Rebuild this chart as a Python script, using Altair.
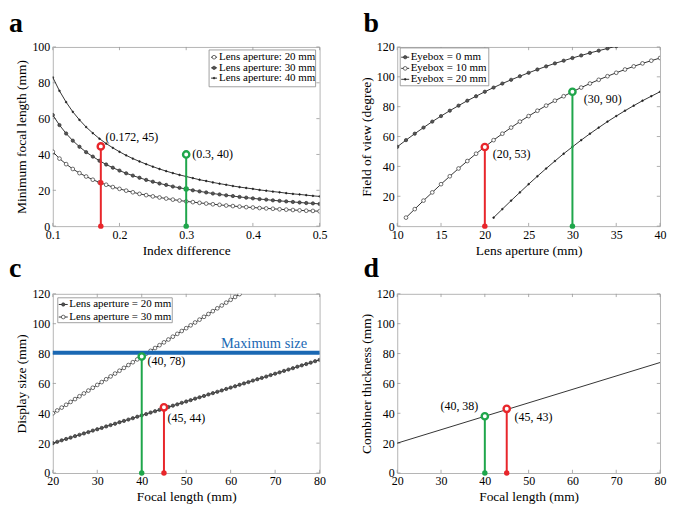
import altair as alt
import pandas as pd

FONT = "Liberation Serif"
RED = "#e8262b"
GREEN = "#1fa64b"
BLUE = "#1a68b3"
GRAY = "#b4b4b4"

# ---------------- Panel a ----------------
idx_diff = [0.10, 0.11, 0.12, 0.13, 0.14, 0.15, 0.16, 0.17, 0.18, 0.19, 0.20,
            0.21, 0.22, 0.23, 0.24, 0.25, 0.26, 0.27, 0.28, 0.29, 0.30,
            0.31, 0.32, 0.33, 0.34, 0.35, 0.36, 0.37, 0.38, 0.39, 0.40,
            0.41, 0.42, 0.43, 0.44, 0.45, 0.46, 0.47, 0.48, 0.49, 0.50]
focal_ap20 = [41.5, 37.7, 34.6, 31.9, 29.6, 27.7, 25.9, 24.4, 23.1, 21.8, 20.8,
              19.8, 18.9, 18.0, 17.3, 16.6, 16.0, 15.4, 14.8, 14.3, 13.8,
              13.4, 13.0, 12.6, 12.2, 11.9, 11.5, 11.2, 10.9, 10.6, 10.4,
              10.1, 9.9, 9.7, 9.4, 9.2, 9.0, 8.8, 8.6, 8.5, 8.3]
focal_ap30 = [62.0, 56.4, 51.7, 47.7, 44.3, 41.3, 38.8, 36.5, 34.4, 32.6, 31.0,
              29.5, 28.2, 27.0, 25.8, 24.8, 23.8, 23.0, 22.1, 21.4, 20.7,
              20.0, 19.4, 18.8, 18.2, 17.7, 17.2, 16.8, 16.3, 15.9, 15.5,
              15.1, 14.8, 14.4, 14.1, 13.8, 13.5, 13.2, 12.9, 12.7, 12.4]
focal_ap40 = [83.0, 75.5, 69.2, 63.8, 59.3, 55.3, 51.9, 48.8, 46.1, 43.7, 41.5,
              39.5, 37.7, 36.1, 34.6, 33.2, 31.9, 30.7, 29.6, 28.6, 27.7,
              26.8, 25.9, 25.2, 24.4, 23.7, 23.1, 22.4, 21.8, 21.3, 20.8,
              20.2, 19.8, 19.3, 18.9, 18.4, 18.0, 17.7, 17.3, 16.9, 16.6]
names_a = ["Lens aperture: 20 mm", "Lens aperture: 30 mm", "Lens aperture: 40 mm"]
ticks_a_x = [0.1, 0.2, 0.3, 0.4, 0.5]
ticks_a_y = [0, 20, 40, 60, 80, 100]
stem_a_x = [0.172, 0.3]
stem_a_top = [44.5, 40.0]
stem_a_mid = [24.2, 20.7]
stem_a_col = [RED, GREEN]
label_a_text = ["(0.172, 45)", "(0.3, 40)"]
label_a_x = [0.179, 0.309]
label_a_y = [50.0, 40.0]

# ---------------- Panel b ----------------
aperture_e0 = list(range(10, 41))
fov_e0 = [53.1, 57.6, 61.9, 66.0, 70.0, 73.7, 77.3, 80.7, 84.0, 87.0, 90.0,
          92.8, 95.5, 98.0, 100.4, 102.7, 104.9, 107.0, 109.0, 110.8, 112.6,
          114.3, 116.0, 117.5, 119.0, 120.5, 121.9, 123.2, 124.4, 125.7, 126.9]
aperture_e10 = list(range(11, 41))
fov_e10 = [5.7, 11.4, 17.1, 22.6, 28.1, 33.4, 38.6, 43.6, 48.5, 53.1,
           57.6, 61.9, 66.0, 70.0, 73.7, 77.3, 80.7, 84.0, 87.0, 90.0,
           92.8, 95.5, 98.0, 100.4, 102.7, 104.9, 107.0, 109.0, 110.8, 112.6]
aperture_e20 = list(range(21, 41))
fov_e20 = [5.7, 11.4, 17.1, 22.6, 28.1, 33.4, 38.6, 43.6, 48.5, 53.1,
           57.6, 61.9, 66.0, 70.0, 73.7, 77.3, 80.7, 84.0, 87.0, 90.0]
names_b = ["Eyebox = 0 mm", "Eyebox = 10 mm", "Eyebox = 20 mm"]
ticks_b_x = [10, 15, 20, 25, 30, 35, 40]
ticks_120 = [0, 20, 40, 60, 80, 100, 120]
stem_b_x = [20, 30]
stem_b_top = [53, 90]
stem_b_col = [RED, GREEN]
label_b_text = ["(20, 53)", "(30, 90)"]
label_b_x = [20.9, 31.3]
label_b_y = [48.0, 85.0]

# ---------------- Panel c ----------------
focal_c20 = list(range(20, 81))
display_ap20 = [20.0, 20.9, 21.9, 22.8, 23.7, 24.7, 25.6, 26.5, 27.4, 28.4, 29.3,
                30.2, 31.2, 32.1, 33.0, 34.0, 34.9, 35.8, 36.7, 37.7, 38.6,
                39.5, 40.5, 41.4, 42.3, 43.3, 44.2, 45.1, 46.0, 47.0, 47.9,
                48.8, 49.8, 50.7, 51.6, 52.6, 53.5, 54.4, 55.3, 56.3, 57.2,
                58.1, 59.1, 60.0, 60.9, 61.9, 62.8, 63.7, 64.6, 65.6, 66.5,
                67.4, 68.4, 69.3, 70.2, 71.2, 72.1, 73.0, 73.9, 74.9, 75.8]
focal_c30 = list(range(20, 63))
display_ap30 = [40.0, 41.9, 43.8, 45.7, 47.6, 49.5, 51.4, 53.3, 55.2, 57.1, 59.0,
                60.9, 62.8, 64.7, 66.6, 68.5, 70.4, 72.3, 74.2, 76.1, 78.0,
                79.9, 81.8, 83.7, 85.6, 87.5, 89.4, 91.3, 93.2, 95.1, 97.0,
                98.9, 100.8, 102.7, 104.6, 106.5, 108.4, 110.3, 112.2, 114.1, 116.0,
                117.9, 119.8]
names_c = ["Lens aperture = 20 mm", "Lens aperture = 30 mm"]
ticks_focal = [20, 30, 40, 50, 60, 70, 80]
max_size = 80.5
max_label_x = 67.5
max_label_y = 84.0
stem_c_x = [40, 45]
stem_c_top = [78, 44]
stem_c_col = [GREEN, RED]
label_c_text = ["(40, 78)", "(45, 44)"]
label_c_x = [41.3, 45.8]
label_c_y = [75.0, 37.0]

# ---------------- Panel d ----------------
focal_d = [20, 80]
thickness_d = [20, 74]
stem_d_x = [40, 45]
stem_d_top = [38, 43]
stem_d_col = [GREEN, RED]
label_d_text = ["(40, 38)", "(45, 43)"]
label_d_x = [38.5, 46.8]
label_d_y = [44.7, 37.3]
label_d_align = ["right", "left"]

W_LEFT, W_RIGHT, H = 268, 264, 180
TICK_FRAC = 0.018

# marker styles: (fill, size)
OPEN = ("white", 14)
FILL = ("#555", 11)
DOT = ("#111", 3)


def enc(domain, values, title, fmt=None):
    ax = dict(values=values, title=title, labelOverlap=False, labelFlush=False)
    if fmt:
        ax["format"] = fmt
    return alt.Scale(domain=domain, nice=False, zero=False), alt.Axis(**ax)


def inner_ticks(xticks, yticks, xdom, ydom, xe, ye, w):
    """MATLAB style inward ticks on all four sides."""
    dy = (ydom[1] - ydom[0]) * TICK_FRAC
    dx = (xdom[1] - xdom[0]) * TICK_FRAC * H / w
    rows = []
    for v in xticks:
        rows.append({"x": v, "x2": v, "y": ydom[0], "y2": ydom[0] + dy})
        rows.append({"x": v, "x2": v, "y": ydom[1] - dy, "y2": ydom[1]})
    for v in yticks:
        rows.append({"x": xdom[0], "x2": xdom[0] + dx, "y": v, "y2": v})
        rows.append({"x": xdom[1] - dx, "x2": xdom[1], "y": v, "y2": v})
    d = pd.DataFrame(rows)
    return alt.Chart(d).mark_rule(color="#999", strokeWidth=0.8).encode(
        x=xe, x2="x2:Q", y=ye, y2="y2:Q")


def series_layers(xs_list, ys_list, names, styles, xe, ye):
    rows = []
    for xs, ys, n, st in zip(xs_list, ys_list, names, styles):
        for x, y in zip(xs, ys):
            rows.append({"x": x, "y": y, "series": n, "f": st[0], "s": st[1]})
    df = pd.DataFrame(rows)
    base = alt.Chart(df)
    line = base.mark_line(color="black", strokeWidth=0.8, clip=True).encode(
        x=xe, y=ye, detail="series:N")
    pts = base.mark_point(stroke="#333", strokeWidth=0.7, opacity=1, clip=True).encode(
        x=xe, y=ye, fill=alt.Fill("f:N", scale=None), size=alt.Size("s:Q", scale=None))
    return [line, pts]


def stem_layers(xs, tops, cols, xe, ye, mids=None):
    d = pd.DataFrame({"x": xs, "y": [0] * len(xs), "y2": tops, "c": cols})
    dt = pd.DataFrame({"x": xs, "y": tops, "c": cols})
    rule = alt.Chart(d).mark_rule(strokeWidth=2).encode(
        x=xe, y=ye, y2="y2:Q", color=alt.Color("c:N", scale=None))
    bot = alt.Chart(d).mark_point(filled=True, size=30, opacity=1).encode(
        x=xe, y=ye, color=alt.Color("c:N", scale=None))
    top = alt.Chart(dt).mark_point(filled=False, fill="white", fillOpacity=1, size=40,
                                   strokeWidth=2.4, opacity=1).encode(
        x=xe, y=ye, stroke=alt.Stroke("c:N", scale=None))
    out = [rule, bot]
    if mids is not None:
        dm = pd.DataFrame({"x": xs, "y": mids, "c": cols})
        out.append(alt.Chart(dm).mark_point(filled=True, size=30, opacity=1).encode(
            x=xe, y=ye, color=alt.Color("c:N", scale=None)))
    out.append(top)
    return out


def labels(texts, xs, ys, xe, ye, aligns=None):
    if aligns is None:
        aligns = ["left"] * len(texts)
    layers = []
    for t, x, y, a in zip(texts, xs, ys, aligns):
        d = pd.DataFrame({"x": [x], "y": [y], "t": [t]})
        layers.append(alt.Chart(d).mark_text(align=a, baseline="middle", fontSize=12,
                                             font=FONT, color="black").encode(
            x=xe, y=ye, text="t:N"))
    return layers


def letter(ch, dx, dy):
    d = pd.DataFrame({"t": [ch]})
    return alt.Chart(d).mark_text(align="left", baseline="alphabetic", fontSize=28,
                                  fontWeight="bold", font=FONT, color="black").encode(
        x=alt.value(dx), y=alt.value(dy), text="t:N")


def legend_box(names, styles, box, rows_y, sym_x, text_x, fsize=11):
    """MATLAB-like boxed legend drawn in pixel space (decoration only)."""
    x0, x1, y0, y1 = box
    one = pd.DataFrame({"k": [0]})
    layers = [alt.Chart(one).mark_rect(fill="white", stroke="#8a8a8a", strokeWidth=0.8).encode(
        x=alt.value(x0), x2=alt.value(x1), y=alt.value(y0), y2=alt.value(y1))]
    for n, st, ry in zip(names, styles, rows_y):
        layers.append(alt.Chart(one).mark_rule(color="black", strokeWidth=0.8).encode(
            x=alt.value(sym_x[0]), x2=alt.value(sym_x[1]), y=alt.value(ry)))
        layers.append(alt.Chart(one).mark_point(fill=st[0], stroke="#333", strokeWidth=0.7,
                                                size=st[1], opacity=1).encode(
            x=alt.value((sym_x[0] + sym_x[1]) / 2), y=alt.value(ry)))
        d = pd.DataFrame({"t": [n]})
        layers.append(alt.Chart(d).mark_text(align="left", baseline="middle", fontSize=fsize,
                                             font=FONT, color="black").encode(
            x=alt.value(text_x), y=alt.value(ry), text="t:N"))
    return layers


# Panel a
dom_ax, dom_ay = [0.1, 0.5], [0, 100]
sx, axx = enc(dom_ax, ticks_a_x, "Index difference", ".1f")
sy, axy = enc(dom_ay, ticks_a_y, "Minimum focal length (mm)")
xa = alt.X("x:Q", scale=sx, axis=axx)
ya = alt.Y("y:Q", scale=sy, axis=axy)
styles_a = [OPEN, FILL, DOT]
panel_a = alt.layer(
    inner_ticks(ticks_a_x, ticks_a_y, dom_ax, dom_ay, xa, ya, W_LEFT),
    *series_layers([idx_diff] * 3, [focal_ap20, focal_ap30, focal_ap40], names_a, styles_a, xa, ya),
    *stem_layers(stem_a_x, stem_a_top, stem_a_col, xa, ya, mids=stem_a_mid),
    *labels(label_a_text, label_a_x, label_a_y, xa, ya),
    *legend_box(names_a, styles_a, (157, 264, 3, 40), [10.3, 21.0, 31.3], (159, 165), 167),
    letter("a", -44, -15),
).properties(width=W_LEFT, height=H)

# Panel b
dom_bx, dom_by = [10, 40], [0, 120]
sx, axx = enc(dom_bx, ticks_b_x, "Lens aperture (mm)")
sy, axy = enc(dom_by, ticks_120, "Field of view (degree)")
xb = alt.X("x:Q", scale=sx, axis=axx)
yb = alt.Y("y:Q", scale=sy, axis=axy)
styles_b = [FILL, OPEN, DOT]
panel_b = alt.layer(
    inner_ticks(ticks_b_x, ticks_120, dom_bx, dom_by, xb, yb, W_RIGHT),
    *series_layers([aperture_e0, aperture_e10, aperture_e20], [fov_e0, fov_e10, fov_e20],
                   names_b, styles_b, xb, yb),
    *stem_layers(stem_b_x, stem_b_top, stem_b_col, xb, yb),
    *labels(label_b_text, label_b_x, label_b_y, xb, yb),
    *legend_box(names_b, styles_b, (3, 92, 1, 39), [10.3, 21.5, 32.5], (4, 12), 13.5),
    letter("b", -34, -15),
).properties(width=W_RIGHT, height=H)

# Panel c
dom_cx, dom_cy = [20, 80], [0, 120]
sx, axx = enc(dom_cx, ticks_focal, "Focal length (mm)")
sy, axy = enc(dom_cy, ticks_120, "Display size (mm)")
xc = alt.X("x:Q", scale=sx, axis=axx)
yc = alt.Y("y:Q", scale=sy, axis=axy)
styles_c = [FILL, OPEN]
max_df = pd.DataFrame({"x": [20], "y": [max_size]})
max_lbl = pd.DataFrame({"x": [max_label_x], "y": [max_label_y], "t": ["Maximum size"]})
panel_c = alt.layer(
    inner_ticks(ticks_focal, ticks_120, dom_cx, dom_cy, xc, yc, W_LEFT),
    *series_layers([focal_c20, focal_c30], [display_ap20, display_ap30], names_c, styles_c, xc, yc),
    alt.Chart(max_df).mark_rule(color=BLUE, strokeWidth=4).encode(y=yc),
    alt.Chart(max_lbl).mark_text(color=BLUE, fontSize=14.5, font=FONT, align="center",
                                 baseline="alphabetic").encode(x=xc, y=yc, text="t:N"),
    *stem_layers(stem_c_x, stem_c_top, stem_c_col, xc, yc),
    *labels(label_c_text, label_c_x, label_c_y, xc, yc),
    *legend_box(names_c, styles_c, (5, 120, 4, 29), [10.7, 23.3], (6, 15), 16.5),
    letter("c", -44, -17),
).properties(width=W_LEFT, height=H)

# Panel d
dom_dx, dom_dy = [20, 80], [0, 120]
sx, axx = enc(dom_dx, ticks_focal, "Focal length (mm)")
sy, axy = enc(dom_dy, ticks_120, "Combiner thickness (mm)")
xd = alt.X("x:Q", scale=sx, axis=axx)
yd = alt.Y("y:Q", scale=sy, axis=axy)
df_d = pd.DataFrame({"x": focal_d, "y": thickness_d})
panel_d = alt.layer(
    inner_ticks(ticks_focal, ticks_120, dom_dx, dom_dy, xd, yd, W_RIGHT),
    alt.Chart(df_d).mark_line(color="black", strokeWidth=0.8).encode(x=xd, y=yd),
    *stem_layers(stem_d_x, stem_d_top, stem_d_col, xd, yd),
    *labels(label_d_text, label_d_x, label_d_y, xd, yd, label_d_align),
    letter("d", -34, -17),
).properties(width=W_RIGHT, height=H)

chart = alt.concat(
    panel_a, panel_b, panel_c, panel_d,
    columns=2,
    spacing=alt.RowColnumber(row=68, column=78),
    bounds="flush",
    padding=0,
).configure_view(
    stroke=GRAY, strokeWidth=1
).configure_axis(
    labelFont=FONT, titleFont=FONT, labelFontSize=12, titleFontSize=13.5,
    titleFontWeight="normal", labelColor="black", titleColor="black",
    ticks=False, domain=False, grid=False, labelPadding=3, titlePadding=3,
)

chart.save("out.html", embed_options={"renderer": "svg", "actions": False})
